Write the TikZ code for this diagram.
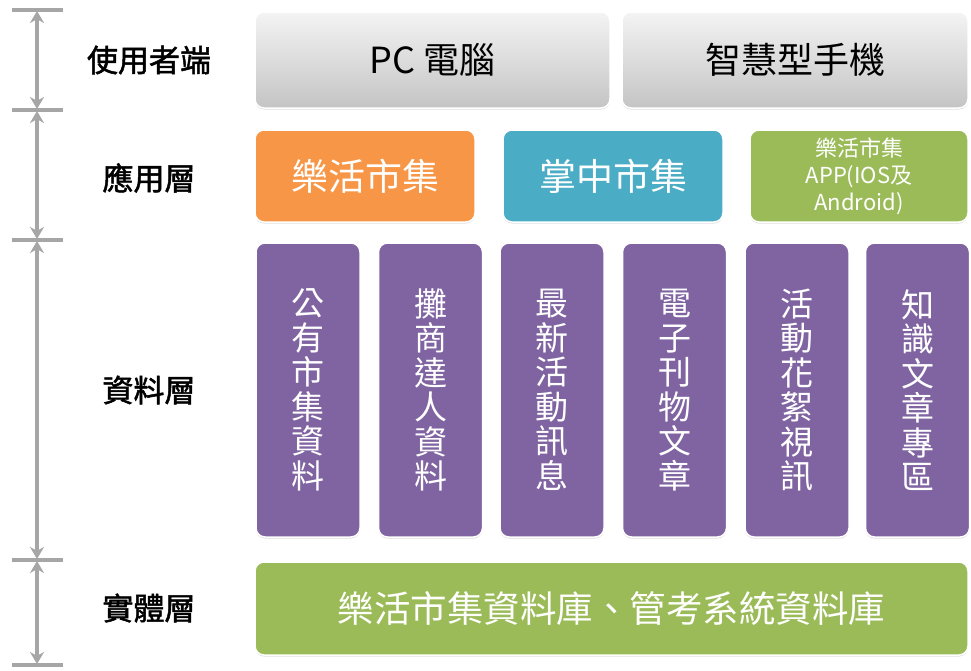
\documentclass[tikz,border=0pt]{standalone}
\usepackage{fontspec}
\newfontfamily\cjk{Noto Sans CJK TC}
\newfontfamily\cjkm[FakeBold=1.6]{Noto Sans CJK TC}
\usetikzlibrary{arrows.meta,shadows}
\definecolor{dimgray}{HTML}{A6A6A6}
\definecolor{topgray}{HTML}{F4F4F4}
\definecolor{botgray}{HTML}{C4C4C4}
\definecolor{orangebox}{HTML}{F79646}
\definecolor{bluebox}{HTML}{4BACC6}
\definecolor{greenbox}{HTML}{9BBB59}
\definecolor{purplebox}{HTML}{8064A2}
\begin{document}
\begin{tikzpicture}[x=1pt,y=-1pt,
  box/.style={rounded corners=9pt, draw=white, line width=1.5pt, inner sep=0pt,
    align=center, text=white, font=\cjk\fontsize{37}{42}\selectfont,
    drop shadow={shadow xshift=0pt, shadow yshift=-1.5pt, opacity=0.25, fill=gray}},
  graybox/.style={box, top color=topgray, bottom color=botgray, text=black,
    minimum height=96pt, font=\cjk\fontsize{36}{42}\selectfont},
  appbox/.style={box, minimum width=220pt, minimum height=92pt},
  colbox/.style={box, fill=purplebox, minimum width=104pt, minimum height=294pt,
    font=\cjk\fontsize{33}{34.5}\selectfont},
  layer/.style={font=\cjkm\fontsize{31}{36}\selectfont, text=black},
  tick/.style={draw=dimgray, line width=3.5pt},
  dim/.style={draw=dimgray, line width=3.5pt, {Stealth[length=12pt,width=14pt]}-{Stealth[length=12pt,width=14pt]}, shorten <=1pt, shorten >=1pt}
]
\useasboundingbox[fill=white] (0,0) rectangle (971,670);

% dimension ticks
\foreach \n/\y in {0/10,1/110,2/240,3/560,4/665}{
  \coordinate (tl\n) at (12,\y);
  \coordinate (tr\n) at (63,\y);
  \coordinate (tm\n) at (37,\y);
  \draw[tick] (tl\n) -- (tr\n);
}
\draw[dim] (tm0) -- (tm1);
\draw[dim] (tm1) -- (tm2);
\draw[dim] (tm2) -- (tm3);
\draw[dim] (tm3) -- (tm4);

% layer labels
\node[layer] (l1) at (149,60) {使用者端};
\node[layer] (l2) at (149,178) {應用層};
\node[layer] (l3) at (149,390) {資料層};
\node[layer] (l4) at (149,608) {實體層};

% user row
\node[graybox, minimum width=355pt] (pc) at (432.5,60) {PC 電腦};
\node[graybox, minimum width=346pt] (phone) at (795,60) {智慧型手機};

% application row
\node[appbox, fill=orangebox] (app1) at (365,176) {樂活市集};
\node[appbox, fill=bluebox] (app2) at (613,176) {掌中市集};
\node[appbox, fill=greenbox, minimum width=218pt,
  font=\cjk\fontsize{22}{27}\selectfont] (app3) at (859,176) {樂活市集\\APP(IOS及\\Android)};

% data row
\node[colbox] (d1) at (308,390) {公\\有\\市\\集\\資\\料};
\node[colbox] (d2) at (430.5,390) {攤\\商\\達\\人\\資\\料};
\node[colbox] (d3) at (552,390) {最\\新\\活\\動\\訊\\息};
\node[colbox] (d4) at (674.5,390) {電\\子\\刊\\物\\文\\章};
\node[colbox] (d5) at (797,390) {活\\動\\花\\絮\\視\\訊};
\node[colbox] (d6) at (917.5,390) {知\\識\\文\\章\\專\\區};

% physical row
\node[box, fill=greenbox, minimum width=713pt, minimum height=93pt,
  font=\cjk\fontsize{36.5}{42}\selectfont] (db) at (611.5,608.5) {樂活市集資料庫、管考系統資料庫};
\end{tikzpicture}
\end{document}
